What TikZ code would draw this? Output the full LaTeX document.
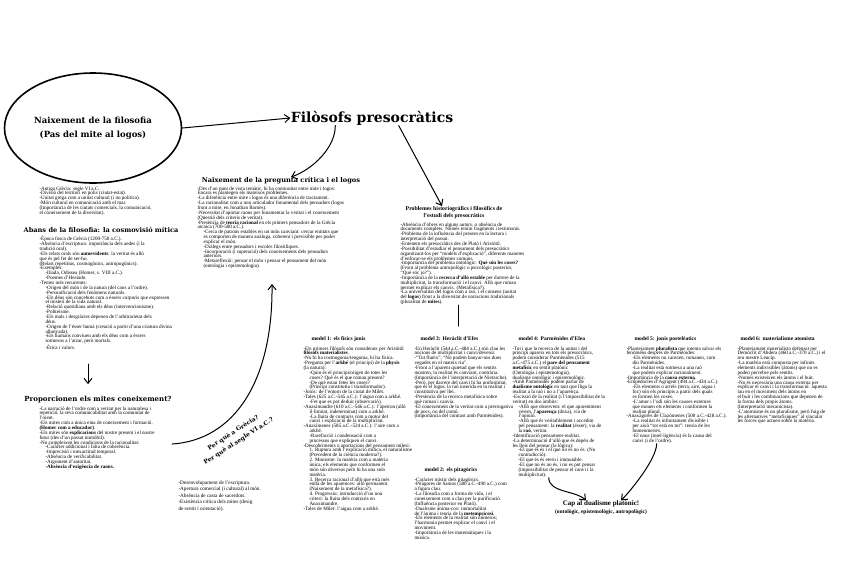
\documentclass[tikz,border=0pt]{standalone}
\usepackage{fontspec}
\setmainfont{Liberation Serif}
\newfontfamily\slab{DejaVu Serif}
\usetikzlibrary{shapes.geometric,arrows.meta}
\newcommand{\ind}{\hspace*{6pt}}

\begin{document}
\begin{tikzpicture}[x=1pt, y=-1pt, line width=1pt, line cap=round,
    txt/.style = {anchor=north west, align=left, inner sep=0pt, font=\fontsize{5.1}{4.85}\selectfont},
    big/.style = {inner sep=0pt, font=\slab\bfseries\fontsize{6.6}{8}\selectfont},
    mhead/.style = {anchor=west, inner sep=0pt, font=\bfseries\fontsize{5.5}{6}\selectfont},
    arr/.style = {-{Straight Barb[length=5pt,width=8pt]}}]
\fill[white] (0,0) rectangle (848,574);
\useasboundingbox (0,0) rectangle (848,574);

% left side
\node[draw, ellipse, line width=1.6pt, minimum width=177pt, minimum height=110pt, align=center,
  font=\slab\bfseries\fontsize{8.5}{14}\selectfont] (circ) at (93,128) {Naixement de la filosofia\\(Pas del mite al logos)};
\node[font=\slab\bfseries\fontsize{14}{16}\selectfont, inner sep=0pt] (title) at (372,118) {Filòsofs presocràtics};

\node[txt] (grec) at (39,186) {-Antiga Grècia: segle VI a.C.\\
-Divisió del territori en polis (ciutat-estat).\\
-Unitat grega com a unitat cultural (i no política).\\
-Món cultural en comunicació amb el mar.\\
(Importància de les ciutats comercials, la comunicació,\\
el coneixement de la diversitat).};

\node[big] (abans) at (101,230) {Abans de la filosofia: la cosmovisió mítica};
\node[txt] (abanstxt) at (39,236) {-Època fosca de Grècia (1200-750 a.C.).\\
-Absència d'escriptura: importància dels aedes (i la\\
tradició oral).\\
-Els relats orals són \textbf{autoevidents}: la veritat és allò\\
que és pel fet de ser-ho.\\
(Relats repetitius, cosmogònics, antropogònics).\\
-Exemples:\\
\ind -Ilíada, Odissea (Homer, s. VIII a.C.).\\
\ind -Poemes d'Hesíode.\\
-Temes més recurrents:\\
\ind -Origen del món i de la natura (del caos a l'ordre).\\
\ind -Personificació dels fenòmens naturals.\\
\ind -Els déus són concebuts com a éssers corporis que expressen\\
\ind el misteri de la vida natural.\\
\ind -Relació quotidiana amb els déus (intervencionisme).\\
\ind -Politeisme.\\
\ind -Els mals i desgràcies depenen de l'arbitrarietat dels\\
\ind déus.\\
\ind -Origen de l'ésser humà (creació a partir d'una criatura divina\\
\ind allunyada).\\
\ind -Els humans conviuen amb els déus com a éssers\\
\ind sotmesos a l'atzar, però mortals.\\
\ind -Ètica i valors.};

\node[big, font=\slab\bfseries\fontsize{7}{8}\selectfont] (prop) at (98,400) {Proporcionen els mites coneixement?};
\node[txt] (proptxt) at (39,406) {-La narració de l'ordre com a veritat per la naturalesa i\\
repetició, la seva comunicabilitat amb la comunitat de\\
l'oient.\\
-Els mites com a única eina de coneixement i formació.\\
\textbf{(Homer com a educador)}.\\
-Els mites són \textbf{explicacions} del nostre present i el nostre\\
futur (des d'un passat immòbil).\\
-No compleixen les condicions de la racionalitat:\\
\ind -Caràcter addicional i falta de coherència.\\
\ind -Imprecisió i inexactitud temporal.\\
\ind -Absència de verificabilitat.\\
\ind -Argument d'autoritat.\\
\ind \textbf{-Absència d'exigència de raons.}};

\node[big, font=\slab\bfseries\fontsize{6}{10}\selectfont, rotate=33, align=center] (perque) at (236,437) {Per què a Grècia?\\Per què al segle VI a.C.?};
\node[txt, font=\fontsize{5.2}{6.5}\selectfont] (dev) at (178,480) {-Desenvolupament de l'escriptura.\\
-Apertura comercial (i cultural) al món.\\
-Absència de casta de sacerdots.\\
-Existència crítica dels mites (desig\\
de sentit i orientació).};

% centre
\node[big] (pq) at (281,181) {Naixement de la pregunta crítica i el logos};
\node[txt] (pqtxt) at (197,186) {-Des d'un punt de vista temàtic, hi ha continuïtat entre mite i logos:\\
Encara es plantegen els mateixos problemes.\\
-La diferència entre mite i logos és una diferència de tractament.\\
-La racionalitat com a nou articulador fonamental dels pensadors (logos\\
front a mite, en Jonathan Barnes).\\
-Necessitat d'aportar raons per fonamentar la veritat i el coneixement\\
(Qüestió dels criteris de veritat).\\
-Presència de \textbf{teoria racional} en els primers pensadors de la Grècia\\
arcaica (700-500 a.C.).\\
\ind -Cerca de patrons estables en un món canviant: cercar entitats que\\
\ind es comporten de manera anàloga, coherent i previsible per poder\\
\ind explicar el món.\\
\ind -Diàlegs entre pensadors i escoles filosòfiques.\\
\ind -Incorporació (i superació) dels coneixements dels pensadors\\
\ind anteriors.\\
\ind -Metareflexió: pensar el món i pensar el pensament del món\\
\ind (ontologia i epistemologia).};

\node[anchor=north, align=center, inner sep=0pt, font=\bfseries\fontsize{5.8}{7.2}\selectfont] (prob) at (454,206) {Problemes historiogràfics i filosòfics de\\l'estudi dels presocràtics};
\node[txt] (probtxt) at (400,222) {-Absència d'obres en alguns autors, o absència de\\
documents complets. Només tenim fragments i testimonis.\\
-Problema de la influència del present en la lectura i\\
interpretació del passat.\\
-Entenem els presocràtics des de Plató i Aristòtil.\\
-Possibilitat d'estudiar el pensament dels presocràtics\\
organitzant-los per “models d'explicació”, diferents maneres\\
d'enfocar-se els problemes comuns.\\
-Importància del problema ontològic: \textbf{Què són les coses?}\\
(Front al problema antropològic o psicològic posterior,\\
“Què sóc jo?”).\\
-Importància de la \textbf{recerca d'allò estable} per darrere de la\\
multiplicitat, la transformació i el canvi. Allò que roman\\
permet explicar els canvis. (Metafísica?).\\
-La universalitat del logos com a raó, i el consens (unitat\\
del \textbf{logos}) front a la diversitat de narracions tradicionals\\
(pluralitat de \textbf{mites}).};

% models
\node[mhead] (m1) at (311,339) {model 1: els físics jonis};
\node[txt] (m1txt) at (303,346) {-Els primers filòsofs són considerats per Aristòtil\\
\textbf{filòsofs materialistes}.\\
-No hi ha cosmogonia/teogonia, hi ha física.\\
-Pregunta per l'\textbf{arkhé} (el principi) de la \textbf{physis}\\
(la natura):\\
\ind -Quin és el principi/origen de totes les\\
\ind coses? Què és el que roman present?\\
\ind -De què estan fetes les coses?\\
\ind (Principi constitutiu i transformador).\\
-Jonis: de l'entorn de la ciutat de Milet.\\
-Tales (625 a.C.-545 a.C.): l'aigua com a arkhé.\\
\ind -Fet que es pot deduir (observació).\\
-Anaximandre (610 a.C.-546 a.C.): l'àpeiron (allò\\
\ind il·limitat, indeterminat) com a arkhé.\\
\ind -La lluita de contraris com a motor del\\
\ind canvi i explicació de la multiplicitat.\\
-Anaxímenes (585 a.C.-524 a.C.): l'aire com a\\
\ind arkhé.\\
\ind -Rarefacció i condensació com a\\
\ind processos que expliquen el canvi.\\
-Descobriments o aportacions del pensament milesi:\\
\ind 1. Ruptura amb l'explicació mítica, el naturalisme\\
\ind (Precedent de la ciència moderna?).\\
\ind 2. Monisme: la matèria com a matèria\\
\ind única; els elements que conformen el\\
\ind món són diversos però hi ha una sola\\
\ind matèria.\\
\ind 3. Recerca racional d'allò que està més\\
\ind enllà de les aparences: allò permanent.\\
\ind (Naixement de la metafísica?).\\
\ind 4. Progressiu: introducció d'un nou\\
\ind criteri: la lluita dels contraris en\\
\ind Anaximandre.\\
-Tales de Milet: l'aigua com a arkhé.};

\node[mhead] (m3) at (420,339) {model 3: Heràclit d'Efes};
\node[txt] (m3txt) at (414,346) {-En Heràclit (544 a.C.-484 a.C.) són clau les\\
nocions de multiplicitat i canvi/devenir.\\
-“Tot flueix”, “No podem banyar-nos dues\\
vegades en el mateix riu”.\\
-Front a l'aparent quietud que els sentits\\
mostren, la realitat és canviant, contrària.\\
(Importància de l'interpretació de Nietzsche).\\
-Però, per darrere del canvi hi ha uniformitat,\\
que és el logos, la raó inserida en la realitat i\\
constitutiva per llei.\\
-Presència de la recerca metafísica sobre\\
què roman i canvia.\\
-El coneixement de la veritat com a prerrogativa\\
de pocs, no del comú.\\
(Importància del contrast amb Parmènides).};

\node[mhead] (m2) at (424,470) {model 2: els pitagòrics};
\node[txt] (m2txt) at (414,477) {-Caràcter místic dels pitagòrics.\\
-Pitàgores de Samos (580 a.C.-490 a.C.) com\\
a figura clau.\\
-La filosofia com a forma de vida, i el\\
coneixement com a clau per la purificació.\\
(Influència posterior en Plató).\\
-Dualisme ànima-cos: immortalitat\\
de l'ànima i teoria de la \textbf{metempsicosi}.\\
-Els elements de la realitat són números;\\
l'harmonia permet explicar el canvi i el\\
moviment.\\
-Importància de les matemàtiques i la\\
música.};

\node[mhead] (m4) at (518,339) {model 4: Parmènides d'Elea};
\node[txt] (m4txt) at (512,346) {-Tot i que la recerca de la unitat i del\\
principi apareix en tots els presocràtics,\\
podem considerar Parmènides (515\\
a.C.-475 a.C.) el \textbf{pare del pensament}\\
\textbf{metafísic} en sentit platònic\\
(Ontologia i epistemologia),\\
dualisme ontològic i epistemològic.\\
-Amb Parmènides podem parlar de\\
\textbf{dualisme ontològic} en tant que lliga la\\
realitat a la raó i no a l'aparença.\\
-Escissió de la realitat (i l'impossibilitat de la\\
veritat) en dos àmbits:\\
\ind -Allò que observem: el que aparentment\\
\ind veiem, l'\textbf{aparença} (doxa), via de\\
\ind l'opinió.\\
\ind -Allò que és veritablement i accedim\\
\ind pel pensament: la \textbf{realitat} (ésser), via de\\
\ind la \textbf{raó}, veritat.\\
-Identificació pensament-realitat.\\
-La determinació d'allò que és depèn de\\
les lleis del pensar (la lògica):\\
\ind -El que és és i el que no és no és. (No\\
\ind contradicció).\\
\ind -El que és és etern i immutable.\\
\ind -El que no és no és, i no es pot pensar\\
\ind (impossibilitat de pensar el canvi i la\\
\ind multiplicitat).};

\node[mhead] (m5) at (634,339) {model 5: jonis postelèatics};
\node[txt] (m5txt) at (626,346) {-Plantejament \textbf{pluralista} que intenta salvar els\\
fenòmens després de Parmènides:\\
\ind -Els elements no canvien, romanen, com\\
\ind diu Parmènides.\\
\ind -La realitat està sotmesa a una raó\\
\ind que podem explicar racionalment.\\
-Importància de la \textbf{causa externa}.\\
-Empèdocles d'Agrigent (494 a.C.-434 a.C.).\\
\ind -Els elements o arrels (terra, aire, aigua i\\
\ind foc) són els principis a partir dels quals\\
\ind es formen les coses.\\
\ind -L'amor i l'odi són les causes externes\\
\ind que mouen els elements i conformen la\\
\ind realitat plural.\\
-Anaxàgores de Clazòmenes (500 a.C.-428 a.C.).\\
\ind -La realitat és infinitament divisible i\\
\ind per això “tot està en tot”: teoria de les\\
\ind homeomeries.\\
\ind -El nous (intel·ligència) és la causa del\\
\ind canvi (i de l'ordre).};

\node[mhead] (m6) at (740,339) {model 6: materialisme atomista};
\node[txt] (m6txt) at (737,346) {-Plantejament materialista defensat per\\
Demòcrit d'Abdera (460 a.C.-370 a.C.) i el\\
seu mestre Leucip.\\
-La matèria està composta per infinits\\
elements indivisibles (àtoms) que no es\\
poden percebre pels sentits.\\
-Només existeixen els àtoms i el buit.\\
-No és necessària una causa externa per\\
explicar el canvi i la transformació: aquesta\\
rau en el moviment dels àtoms en\\
el buit i les combinacions que depenen de\\
la forma dels propis àtoms.\\
(Interpretació mecanicista).\\
-L'atomisme és un pluralisme, però fuig de\\
les alternatives “metafísiques” al vincular\\
les forces que actuen sobre la matèria.};

\node[inner sep=0pt, align=center, font=\bfseries\fontsize{7}{8}\selectfont] (cap) at (601,508) {Cap al dualisme platònic!\\{\fontsize{5.5}{6.5}\selectfont (ontològic, epistemològic, antropològic)}};

% connectors
\coordinate (arcstart) at (172,444);
\coordinate (arctip) at (272,284);
\coordinate (a1) at (88,364);
\coordinate (rowtop) at (458,326);

\draw[arr] (circ.east) -- (title.west);
\draw[arr] ([xshift=45pt]title.south west) .. controls +(0,22) and +(22,-8) .. ([xshift=10pt]pq.north);
\draw[arr] ([xshift=-55pt]title.south east) -- ([xshift=-12pt]prob.north);
\draw[arr] (arcstart) .. controls (235,440) and (273,380) .. (arctip);
\draw[arr, shorten >=12pt] (a1) -- (prop.north -| a1);
\draw (probtxt.south -| rowtop) -- (rowtop);
\draw[arr] ([xshift=-10pt]m4txt.south) .. controls +(0,15) and +(-10,-10) .. ([xshift=-15pt]cap.north);
\draw[arr] ([xshift=-20pt]m5txt.south) .. controls +(0,15) and +(10,-10) .. ([xshift=20pt]cap.north);
\end{tikzpicture}
\end{document}
